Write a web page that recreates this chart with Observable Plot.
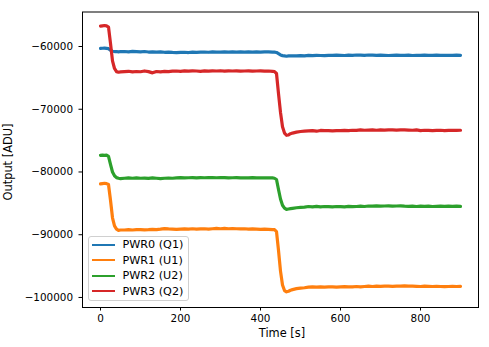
<!DOCTYPE html>
<html>
<head>
<meta charset="utf-8">
<script src="https://cdn.jsdelivr.net/npm/d3@7"></script>
<script src="https://cdn.jsdelivr.net/npm/@observablehq/plot@0.6"></script>
<style>
  body { margin: 0; background: #fff; }
  #wrap { position: relative; width: 489px; height: 347px; font-family: 'DejaVu Sans', sans-serif; }
  #wrap svg, #wrap svg text { font-family: 'DejaVu Sans', sans-serif !important; font-size: 10.4px !important; }
  #ylab { position: absolute; left: 8.5px; top: 162px; transform: translate(-50%, -50%) rotate(-90deg); font-size: 11.4px; white-space: nowrap; color: #000; line-height: 1; }
  #xlab { position: absolute; left: 282px; top: 334px; transform: translate(-50%, -50%); font-size: 11.4px; white-space: nowrap; color: #000; line-height: 1; }
  #legend { position: absolute; left: 87.5px; top: 235.5px; width: 101px; height: 65.5px; border: 1px solid #d0d0d0; border-radius: 3px; background: rgba(255,255,255,0.8); box-sizing: border-box; }
  .li { position: absolute; left: 3px; height: 14px; display: flex; align-items: center; font-size: 11.2px; white-space: nowrap; }
  .li span.sw { display: inline-block; width: 23px; height: 2px; margin-right: 8px; }
</style>
</head>
<body>
<div id="wrap"></div>
<script>
// Series names and colours
const seriesNames = ["PWR0 (Q1)", "PWR1 (U1)", "PWR2 (U2)", "PWR3 (Q2)"];
const seriesColors = ["#1f77b4", "#ff7f0e", "#2ca02c", "#d62728"];

// Sample times [s]
const times = [0,5,10,15,20,25,30,35,40,45,50,
  60,70,80,90,100,110,120,130,140,150,160,170,180,190,200,210,220,230,240,250,260,270,280,290,300,310,320,330,340,350,360,370,380,390,400,410,420,430,
  435,440,445,450,455,460,465,470,475,480,
  490,500,510,520,530,540,550,560,570,580,590,600,610,620,630,640,650,660,670,680,690,700,710,720,730,740,750,760,770,780,790,800,810,820,830,840,850,860,870,880,890,900];

// PWR0 (Q1)
const pwr0 = [-60300,-60280,-60250,-60300,-60350,-60600,-60750,-60800,-60800,-60850,-60800,
  -60800,-60850,-60780,-60820,-60850,-60800,-60880,-60850,-60900,-60870,-60920,-60900,-60950,-60980,-60950,-60920,-60960,-60900,-60940,-60900,-60880,-60920,-60850,-60900,-60880,-60850,-60900,-60870,-60880,-60850,-60900,-60870,-60880,-60850,-60900,-60870,-60850,-60880,
  -60900,-60950,-61150,-61350,-61450,-61500,-61550,-61500,-61480,-61500,
  -61480,-61450,-61500,-61420,-61450,-61400,-61430,-61450,-61400,-61420,-61380,-61400,-61430,-61380,-61400,-61350,-61380,-61400,-61350,-61380,-61420,-61380,-61400,-61430,-61400,-61380,-61420,-61400,-61380,-61430,-61400,-61420,-61380,-61400,-61420,-61380,-61400,-61390,-61420,-61400,-61380,-61400];

// PWR1 (U1)
const pwr1 = [-81900,-81850,-81800,-81850,-82000,-84500,-87300,-88600,-89100,-89300,-89250,
  -89250,-89200,-89250,-89200,-89180,-89220,-89200,-89150,-89200,-89120,-89020,-89080,-89100,-89150,-89100,-89080,-89100,-89050,-89100,-89080,-89050,-89100,-89050,-89000,-89050,-89000,-89050,-89020,-89050,-89080,-89050,-89100,-89080,-89100,-89150,-89120,-89150,-89180,
  -89200,-89500,-92500,-95800,-98000,-98900,-99100,-99000,-98850,-98750,
  -98600,-98500,-98450,-98350,-98300,-98350,-98300,-98350,-98320,-98300,-98350,-98300,-98280,-98300,-98320,-98250,-98300,-98250,-98200,-98250,-98200,-98220,-98180,-98200,-98220,-98180,-98200,-98150,-98180,-98200,-98220,-98250,-98200,-98230,-98250,-98220,-98250,-98280,-98250,-98230,-98250,-98230];

// PWR2 (U2)
const pwr2 = [-77350,-77300,-77350,-77300,-77500,-78800,-80000,-80600,-80900,-81000,-81050,
  -81000,-80950,-81000,-80950,-81000,-80980,-81020,-80950,-81000,-81050,-81000,-80980,-81000,-80950,-80900,-80950,-80920,-80900,-80950,-80900,-80920,-80880,-80900,-80920,-80880,-80900,-80950,-80920,-80900,-80950,-80920,-80950,-80900,-80950,-80920,-80950,-80930,-80950,
  -81000,-81200,-82800,-84300,-85300,-85750,-85950,-85900,-85850,-85800,
  -85700,-85650,-85600,-85500,-85550,-85480,-85550,-85500,-85520,-85550,-85500,-85520,-85550,-85480,-85520,-85500,-85450,-85500,-85420,-85450,-85400,-85450,-85420,-85400,-85450,-85420,-85400,-85450,-85480,-85450,-85500,-85450,-85480,-85450,-85500,-85480,-85450,-85480,-85450,-85480,-85450,-85480];

// PWR3 (Q2)
const pwr3 = [-56750,-56700,-56650,-56700,-56900,-59500,-62300,-63500,-64000,-64100,-64050,
  -64000,-63950,-64050,-63980,-64020,-63900,-64000,-64200,-63980,-64050,-63970,-64000,-63920,-63900,-63950,-63880,-63920,-63870,-63900,-63950,-63880,-63920,-63890,-63900,-63860,-63920,-63880,-63900,-63870,-63920,-63900,-63880,-63930,-63900,-63890,-63920,-63900,-63950,
  -64000,-64300,-67500,-70500,-72800,-73800,-74150,-74100,-73900,-73800,
  -73650,-73550,-73500,-73450,-73400,-73500,-73380,-73420,-73400,-73450,-73400,-73420,-73380,-73400,-73350,-73380,-73300,-73350,-73320,-73300,-73350,-73300,-73320,-73280,-73300,-73320,-73300,-73280,-73320,-73350,-73300,-73400,-73350,-73380,-73400,-73380,-73350,-73400,-73380,-73350,-73380,-73350];

// Tick values
const xTicks = [0, 200, 400, 600, 800];
const yTicks = [-100000, -90000, -80000, -70000, -60000];

const allSeries = [pwr0, pwr1, pwr2, pwr3];
const rows = [];
allSeries.forEach((vals, si) => {
  vals.forEach((v, i) => rows.push({t: times[i], v, s: seriesNames[si]}));
});

const fmt = d => String(d).replace("-", "\u2212");

const chart = Plot.plot({
  width: 489,
  height: 347,
  marginLeft: 82,
  marginRight: 11,
  marginTop: 11.5,
  marginBottom: 40,
  style: {fontFamily: "'DejaVu Sans', sans-serif", fontSize: "10.4px", color: "#000", background: "#fff"},
  x: {domain: [-45, 945], ticks: xTicks, tickFormat: fmt, label: null, tickSize: 3.5, tickPadding: 4},
  y: {domain: [-101600, -54500], ticks: yTicks, tickFormat: fmt, label: null, tickSize: 3.5, tickPadding: 6},
  color: {domain: seriesNames, range: seriesColors},
  marks: [
    Plot.line(rows, {x: "t", y: "v", z: "s", stroke: "s", strokeWidth: 3.2, curve: "linear"}),
    Plot.frame({stroke: "#000", strokeWidth: 1})
  ]
});

const wrap = document.getElementById("wrap");
wrap.appendChild(chart);

const ylab = document.createElement("div");
ylab.id = "ylab"; ylab.textContent = "Output [ADU]";
wrap.appendChild(ylab);
const xlab = document.createElement("div");
xlab.id = "xlab"; xlab.textContent = "Time [s]";
wrap.appendChild(xlab);

const legend = document.createElement("div");
legend.id = "legend";
seriesNames.forEach((n, i) => {
  const li = document.createElement("div");
  li.className = "li";
  li.style.top = (1 + i * 15.6) + "px";
  const sw = document.createElement("span");
  sw.className = "sw";
  sw.style.background = seriesColors[i];
  li.appendChild(sw);
  li.appendChild(document.createTextNode(n));
  legend.appendChild(li);
});
wrap.appendChild(legend);
</script>
</body>
</html>
